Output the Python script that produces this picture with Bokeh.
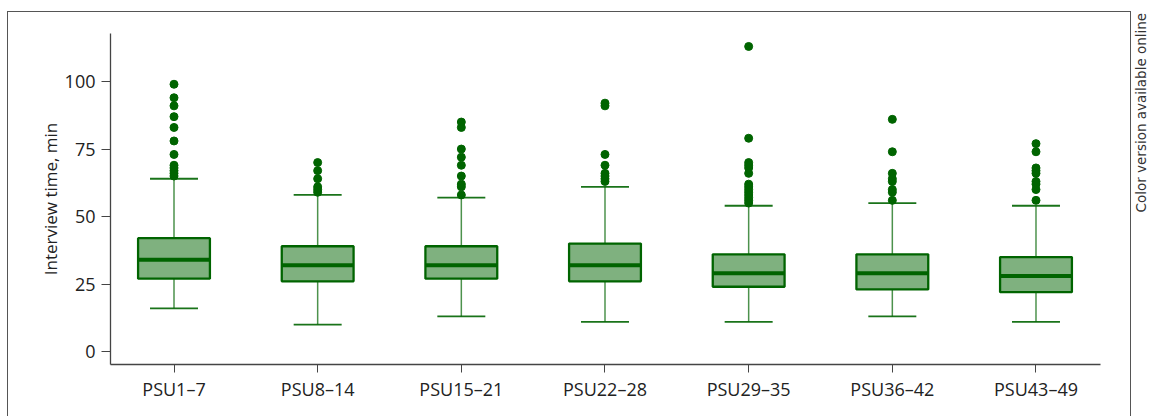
import numpy as np
from bokeh.plotting import figure
from bokeh.layouts import row
from bokeh.models import Range1d, FixedTicker, Label, ColumnDataSource
from bokeh.embed import file_html
from bokeh.resources import INLINE

groups = ["PSU1–7", "PSU8–14", "PSU15–21", "PSU22–28", "PSU29–35", "PSU36–42", "PSU43–49"]
q1 = [27, 26, 27, 26, 24, 23, 22]
median = [34, 32, 32, 32, 29, 29, 28]
q3 = [42, 39, 39, 40, 36, 36, 35]
lower = [16, 10, 13, 11, 11, 13, 11]
upper = [64, 58, 57, 61, 54, 55, 54]
outliers = [
    [99, 94, 91, 87, 83, 78, 73, 69, 68, 67, 66, 65],
    [70, 67, 64, 61, 60, 59],
    [85, 83, 75, 72, 69, 65, 62, 61, 58],
    [92, 91, 73, 69, 66, 65, 64, 63],
    [113, 79, 70, 69, 68, 66, 62, 61, 60, 59, 58, 57, 56, 55],
    [86, 74, 66, 64, 63, 60, 59, 56],
    [77, 74, 68, 67, 66, 63, 62, 60, 56],
]
y_ticks = [0, 25, 50, 75, 100]
note_text = "Color version available online"

FONT = "Open Sans"
GREEN = "#006400"
BORDER = "1.5px solid #555555"

xs = np.arange(len(groups), dtype=float)
box_w = 0.5
cap_w = 0.334

src = ColumnDataSource(dict(
    x=xs, q1=q1, q3=q3, med=median, lo=lower, up=upper,
    bx0=xs - box_w / 2, bx1=xs + box_w / 2,
    cx0=xs - cap_w / 2, cx1=xs + cap_w / 2,
))

p = figure(width=1124, height=405, output_backend="svg", toolbar_location=None,
           x_range=Range1d(-0.442, 6.449), y_range=Range1d(-4.8, 117.8),
           min_border_left=102, min_border_right=32, min_border_top=21, min_border_bottom=53)
p.margin = (11, 0, 0, 7)
p.styles = {"border-left": BORDER, "border-top": BORDER, "border-right": BORDER}
p.outline_line_color = None
p.xgrid.visible = False
p.ygrid.visible = False

# whiskers
p.segment("x", "q3", "x", "up", source=src, line_color=GREEN, line_alpha=0.7, line_width=1.5)
p.segment("x", "q1", "x", "lo", source=src, line_color=GREEN, line_alpha=0.7, line_width=1.5)
p.segment("cx0", "up", "cx1", "up", source=src, line_color=GREEN, line_alpha=0.9, line_width=1.8)
p.segment("cx0", "lo", "cx1", "lo", source=src, line_color=GREEN, line_alpha=0.9, line_width=1.8)
# boxes
p.vbar(x="x", width=box_w, bottom="q1", top="q3", source=src,
       fill_color=GREEN, fill_alpha=0.5, line_color=GREEN, line_width=2.3)
p.segment("bx0", "med", "bx1", "med", source=src, line_color=GREEN, line_width=4)

# outliers
ox, oy = [], []
for i, vals in enumerate(outliers):
    ox += [xs[i]] * len(vals)
    oy += vals
p.scatter(ox, oy, size=8, color=GREEN)

# axes
p.xaxis.ticker = FixedTicker(ticks=list(xs))
p.xaxis.major_label_overrides = {i: g for i, g in enumerate(groups)}
p.yaxis.ticker = FixedTicker(ticks=y_ticks)
p.yaxis.axis_label = "Interview time, min"
for ax in (p.xaxis, p.yaxis):
    ax.axis_line_color = "#444444"
    ax.axis_line_width = 1.3
    ax.major_tick_line_color = "#444444"
    ax.major_tick_out = 8
    ax.major_tick_in = 0
    ax.minor_tick_line_color = None
    ax.major_label_text_font = FONT
    ax.major_label_text_font_size = "18px"
    ax.major_label_text_color = "#222222"
    ax.major_label_standoff = 4
p.yaxis.major_tick_out = 9
p.yaxis.major_label_standoff = 6
p.yaxis.axis_label_text_font = FONT
p.yaxis.axis_label_text_font_size = "17px"
p.yaxis.axis_label_text_font_style = "normal"
p.yaxis.axis_label_text_color = "#222222"
p.yaxis.axis_label_standoff = 0

# side note, in its own narrow figure
p2 = figure(width=17, height=417, output_backend="svg", toolbar_location=None,
            title=None, x_axis_location=None, y_axis_location=None,
            x_range=Range1d(0, 1), y_range=Range1d(0, 1),
            min_border_left=0, min_border_right=0, min_border_top=0, min_border_bottom=0)
p2.outline_line_color = None
p2.xgrid.visible = False
p2.ygrid.visible = False
for fig in (p, p2):
    if "frame_align" in fig.properties():
        fig.frame_align = False
note = Label(x=9, y=205, x_units="screen", y_units="screen",
             text=note_text, angle=np.pi / 2,
             text_font="DejaVu Sans", text_font_size="13.5px", text_color="#333333",
             text_align="left", text_baseline="middle")
p2.add_layout(note)

layout = row(p, p2)
open("out.html", "w").write(file_html(layout, INLINE))
